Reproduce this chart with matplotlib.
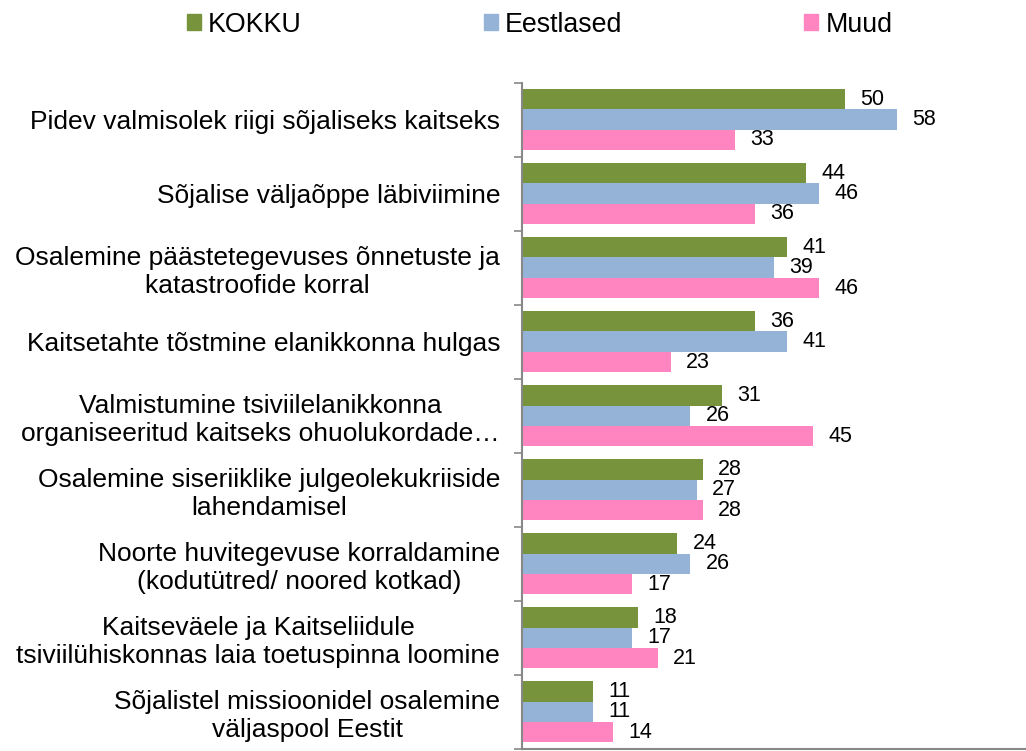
import matplotlib.pyplot as plt
import matplotlib.patches as mpatches
import numpy as np

plt.rcParams['font.family'] = ['Liberation Sans', 'DejaVu Sans']

categories = [
    'Pidev valmisolek riigi sõjaliseks kaitseks',
    'Sõjalise väljaõppe läbiviimine',
    'Osalemine päästetegevuses õnnetuste ja\nkatastroofide korral',
    'Kaitsetahte tõstmine elanikkonna hulgas',
    'Valmistumine tsiviilelanikkonna\norganiseeritud kaitseks ohuolukordade…',
    'Osalemine siseriiklike julgeolekukriiside\nlahendamisel',
    'Noorte huvitegevuse korraldamine\n(kodutütred/ noored kotkad)',
    'Kaitseväele ja Kaitseliidule\ntsiviilühiskonnas laia toetuspinna loomine',
    'Sõjalistel missioonidel osalemine\nväljaspool Eestit',
]
kokku = [50, 44, 41, 36, 31, 28, 24, 18, 11]
eestlased = [58, 46, 39, 41, 26, 27, 26, 17, 11]
muud = [33, 36, 46, 23, 45, 28, 17, 21, 14]

series = [('KOKKU', kokku, '#77933C'),
          ('Eestlased', eestlased, '#95B3D7'),
          ('Muud', muud, '#FF85C0')]

fig = plt.figure(figsize=(10.26, 7.51), dpi=100)
ax = fig.add_axes([0.509, 0.003, 0.491, 0.887])

y = np.arange(len(categories))
h = 0.275
for i, (name, vals, col) in enumerate(series):
    bars = ax.barh(y + (i - 1) * h, vals, height=h, color=col, label=name)
    ax.bar_label(bars, padding=11, fontsize=15.5)

ax.set_ylim(len(categories) - 0.5, -0.5)
ax.set_xlim(0, 78)

# category labels sit between boundary ticks
ax.set_yticks(y)
ax.set_yticklabels(categories, fontsize=19, multialignment='center')
ax.tick_params(axis='y', which='major', length=0, pad=16)
ax.set_yticks(np.arange(len(categories) + 1) - 0.5, minor=True)
ax.tick_params(axis='y', which='minor', length=6, width=1.2, color='#888888', direction='out')

ax.set_xticks([])
for side in ['top', 'right']:
    ax.spines[side].set_visible(False)
for side in ['left', 'bottom']:
    ax.spines[side].set_color('#888888')
    ax.spines[side].set_linewidth(1.5)

handles = [mpatches.Patch(color=c, label=n) for n, _, c in series]
fig.legend(handles=handles, loc='center', bbox_to_anchor=(0.526, 0.967), ncol=3,
           frameon=False, fontsize=19.3, handlelength=0.52, handleheight=0.52,
           handletextpad=0.26, columnspacing=6.8, borderpad=0, borderaxespad=0)

fig.savefig('out.png', dpi=100)
